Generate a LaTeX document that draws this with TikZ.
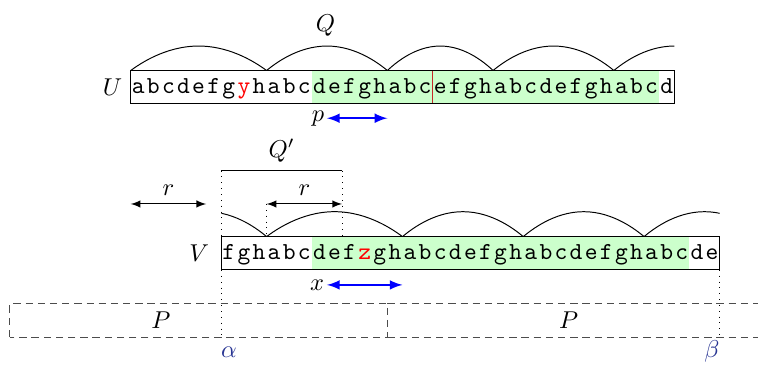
\documentclass[tikz,border=0pt]{standalone}
\usepackage{color}
\usepackage{tikz}
\definecolor{green100}{HTML}{CCFFCC}
\definecolor{indigo800}{HTML}{283593}
\definecolor{red800}{HTML}{C62828}
\usetikzlibrary{arrows}
\tikzstyle{letra}=[anchor=base, inner sep=0pt, font=\ttfamily]
\tikzstyle{cota}=[latex-latex]
\tikzstyle{desloc}=[latex-latex, thick, blue]
\tikzstyle{bloco}=[dashed, dash pattern=on 3pt off 2pt, black!70]
\tikzstyle{guia}=[dotted]

\begin{document}
\begin{tikzpicture}[x=0.2177cm, y=0.2177cm]
			\useasboundingbox (-8.656,0) rectangle (41.546,24.17);
			% cadeia U
			\fill[green100] (12,17.3) rectangle (35,19.5);
			\draw[red800] (20,17.3) -- (20,19.5);
			\draw (0,17.3) rectangle (36,19.5);
			\foreach \c [count=\i from 0] in {a,b,c,d,e,f,g,{\color{red}y},h,a,b,c,d,e,f,g,h,a,b,c,e,f,g,h,a,b,c,d,e,f,g,h,a,b,c,d}
				\node[letra] (u\i) at (\i+0.5,17.97) {\c};
			\node[left] (U) at (0,18.4) {$U$};
			\begin{scope}
				\clip (0,15) rectangle (36,23);
				\foreach \a/\b in {0/9,9/17,17/24,24/32,32/40}
					\draw (\a,19.5) parabola bend ({(\a+\b)/2},21.12) (\b,19.5);
			\end{scope}
			\node (Q) at (12.9,22.5) {$Q$};
			\coordinate (pa) at (13,16.34);
			\coordinate (pb) at (17,16.34);
			\draw[desloc] (pa) -- (pb);
			\node[left, inner sep=1pt] (p) at (pa) {$p$};
			% cadeia V
			\fill[green100] (12,6.3) rectangle (37,8.5);
			\draw (6,6.3) rectangle (39,8.5);
			\foreach \c [count=\i from 0] in {f,g,h,a,b,c,d,e,f,{\color{red}z},g,h,a,b,c,d,e,f,g,h,a,b,c,d,e,f,g,h,a,b,c,d,e}
				\node[letra] (v\i) at (\i+6.5,6.97) {\c};
			\node[left, xshift=-1.5pt] (V) at (6,7.4) {$V$};
			\begin{scope}
				\clip (6,4) rectangle (39,12);
				\foreach \a/\b in {1/9,9/18,18/26,26/34,34/42}
					\draw (\a,8.5) parabola bend ({(\a+\b)/2},10.15) (\b,8.5);
			\end{scope}
			\coordinate (xa) at (13,5.3);
			\coordinate (xb) at (18,5.3);
			\draw[desloc] (xa) -- (xb);
			\node[left, inner sep=1pt] (x) at (xa) {$x$};
			% Q' e r
			\coordinate (qa) at (6,12.87);
			\coordinate (qb) at (14,12.87);
			\draw[semithick] (qa) -- node[above] (Ql) {$Q'$} (qb);
			\coordinate (ra) at (0,10.66);
			\coordinate (rb) at (5,10.66);
			\coordinate (rc) at (9,10.66);
			\coordinate (rd) at (14,10.66);
			\draw[cota] (ra) -- node[above] (r1) {$r$} (rb);
			\draw[cota] (rc) -- node[above] (r2) {$r$} (rd);
			\draw[guia] (rc) -- (9,8.5);
			\draw[guia] (qb) -- (14,8.5);
			% blocos P
			\coordinate (alfa) at (6,1.85);
			\coordinate (beta) at (39,1.85);
			\draw[bloco] (-8,1.85) rectangle (17,4.04);
			\draw[bloco] (17,4.04) -- (41.546,4.04) (17,1.85) -- (41.546,1.85);
			\node (P1) at (2,2.95) {$P$};
			\node (P2) at (29,2.95) {$P$};
			\draw[guia] (qa) -- (alfa);
			\draw[guia] (39,6.3) -- (beta);
			\node[anchor=base, text=indigo800] (a) at (6.5,0.46) {$\alpha$};
			\node[anchor=base, text=indigo800] (b) at (38.5,0.46) {$\beta$};
		\end{tikzpicture}
\end{document}
